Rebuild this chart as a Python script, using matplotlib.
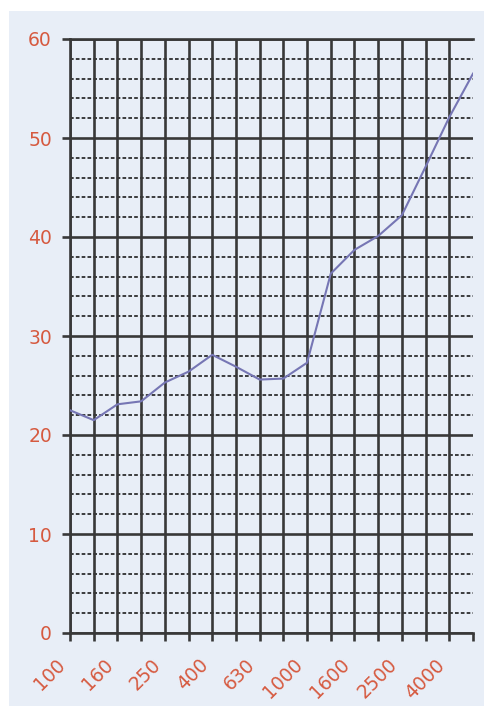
import numpy as np
import matplotlib
matplotlib.use("Agg")
import matplotlib.pyplot as plt
from matplotlib.patches import Rectangle
from matplotlib.transforms import ScaledTranslation

# third-octave band centre frequencies [Hz] and measured level
freqs = ["100", "125", "160", "200", "250", "315", "400", "500", "630",
         "800", "1000", "1250", "1600", "2000", "2500", "3150", "4000", "5000"]
level = [22.5, 21.5, 23.1, 23.4, 25.3, 26.4, 28.1, 26.9, 25.6,
         25.7, 27.3, 36.3, 38.7, 40.1, 42.2, 47.1, 52.1, 56.5]

bg = "#e8eef7"
grid_c = "#383838"
label_c = "#d65a40"
line_c = "#7676b4"

W, H = 484, 706
fig = plt.figure(figsize=(W / 100, H / 100), dpi=100)
fig.patch.set_facecolor("white")
fig.patches.append(Rectangle((9 / W, 0), 1, 1 - 11 / H, transform=fig.transFigure,
                             facecolor=bg, edgecolor="none", lw=0, zorder=-10))

ax = fig.add_axes([70 / W, (H - 633) / H, (473 - 70) / W, (633 - 39) / H])
ax.set_facecolor(bg)

x = np.arange(len(freqs))
ax.set_xlim(0, len(freqs) - 1)
ax.set_ylim(0, 60)

# minor dashed horizontals every 2, solid majors every 10
ax.set_yticks(np.arange(0, 61, 10))
ax.set_yticks(np.arange(0, 61, 2), minor=True)
ax.grid(axis="y", which="minor", color="#1e1e1e", lw=1.2, ls=(0, (2.2, 1.3)), zorder=1)
ax.grid(axis="y", which="major", color=grid_c, lw=1.9, ls="-", zorder=2)
ax.vlines(x[:-1], 0, 60, color=grid_c, lw=1.9, zorder=2)

ax.plot(x, level, color=line_c, lw=1.5, zorder=3)

ax.set_xticks(x)
ax.set_xticklabels([f if i % 2 == 0 else "" for i, f in enumerate(freqs)])

ax.spines["right"].set_visible(False)
for s in ["left", "bottom", "top"]:
    ax.spines[s].set_color(grid_c)
    ax.spines[s].set_linewidth(1.9)

ax.tick_params(axis="both", which="major", length=6, width=1.9, color=grid_c,
               labelcolor=label_c, labelsize=13.5)
ax.tick_params(axis="y", which="minor", length=0)
ax.tick_params(axis="y", pad=7)
ax.tick_params(axis="x", pad=10)

shift = ScaledTranslation(-14 / 100, 0, fig.dpi_scale_trans)
for lab in ax.get_xticklabels():
    lab.set_rotation(45)
    lab.set_ha("right")
    lab.set_va("top")
    lab.set_rotation_mode("anchor")
    lab.set_transform(lab.get_transform() + shift)

fig.savefig("out.png", dpi=100)
